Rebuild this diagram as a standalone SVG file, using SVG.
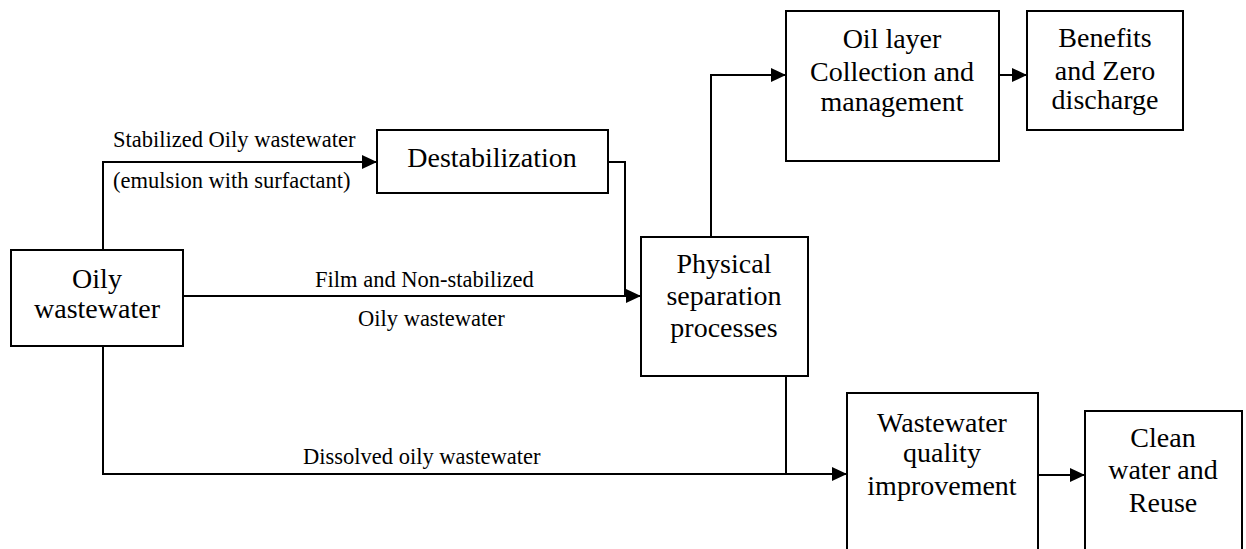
<svg xmlns="http://www.w3.org/2000/svg" width="1246" height="549" viewBox="0 0 1246 549">
  <style>
    .box { fill: #ffffff; stroke: #000000; stroke-width: 2; }
    .conn { fill: none; stroke: #000000; stroke-width: 2; }
    .nt { font-size: 28px; fill: #000000; text-anchor: middle; }
    .lbl { font-size: 22.5px; fill: #000000; }
  </style>
  <defs>
    <marker id="arrow" viewBox="0 0 15 14" refX="15" refY="7" markerWidth="15" markerHeight="14" markerUnits="userSpaceOnUse" orient="auto">
      <path d="M0,0 L15,7 L0,14 Z" fill="#000000"/>
    </marker>
  </defs>
  <rect width="1246" height="549" fill="#ffffff"/>

  <g id="connectors">
    <path class="conn" d="M103,250 V162 H377" marker-end="url(#arrow)"/>
    <path class="conn" d="M183,296 H641" marker-end="url(#arrow)"/>
    <path class="conn" d="M608,162 H625 V296"/>
    <path class="conn" d="M103,346 V474 H847" marker-end="url(#arrow)"/>
    <path class="conn" d="M786,376 V474"/>
    <path class="conn" d="M711,237 V75 H786" marker-end="url(#arrow)"/>
    <path class="conn" d="M999,75 H1027" marker-end="url(#arrow)"/>
    <path class="conn" d="M1038,475 H1085" marker-end="url(#arrow)"/>
  </g>

  <g font-family="'Liberation Serif', Tinos, 'Times New Roman', Times, 'DejaVu Serif', serif">
  <g id="labels">
    <text class="lbl" x="113" y="147">Stabilized Oily wastewater</text>
    <text class="lbl" x="113" y="188">(emulsion with surfactant)</text>
    <text class="lbl" x="315" y="287">Film and Non-stabilized</text>
    <text class="lbl" x="358" y="326">Oily wastewater</text>
    <text class="lbl" x="303" y="464">Dissolved oily wastewater</text>
  </g>

  <g id="node-oily">
    <rect class="box" x="11" y="250" width="172" height="96"/>
    <text class="nt" x="97" y="288">Oily</text>
    <text class="nt" x="97" y="318">wastewater</text>
  </g>

  <g id="node-destabilization">
    <rect class="box" x="377" y="130" width="231" height="63"/>
    <text class="nt" x="492" y="167">Destabilization</text>
  </g>

  <g id="node-physical">
    <rect class="box" x="641" y="237" width="167" height="139"/>
    <text class="nt" x="724" y="273">Physical</text>
    <text class="nt" x="724" y="305">separation</text>
    <text class="nt" x="724" y="337">processes</text>
  </g>

  <g id="node-oil-layer">
    <rect class="box" x="786" y="11" width="213" height="150"/>
    <text class="nt" x="892" y="48">Oil layer</text>
    <text class="nt" x="892" y="81">Collection and</text>
    <text class="nt" x="892" y="111">management</text>
  </g>

  <g id="node-benefits">
    <rect class="box" x="1027" y="11" width="156" height="119"/>
    <text class="nt" x="1105" y="47">Benefits</text>
    <text class="nt" x="1105" y="80">and Zero</text>
    <text class="nt" x="1105" y="109">discharge</text>
  </g>

  <g id="node-quality">
    <rect class="box" x="847" y="393" width="191" height="170"/>
    <text class="nt" x="942" y="432">Wastewater</text>
    <text class="nt" x="942" y="462">quality</text>
    <text class="nt" x="942" y="495">improvement</text>
  </g>

  <g id="node-clean">
    <rect class="box" x="1085" y="411" width="157" height="150"/>
    <text class="nt" x="1163" y="447">Clean</text>
    <text class="nt" x="1163" y="479">water and</text>
    <text class="nt" x="1163" y="512">Reuse</text>
  </g>
  </g>
</svg>
